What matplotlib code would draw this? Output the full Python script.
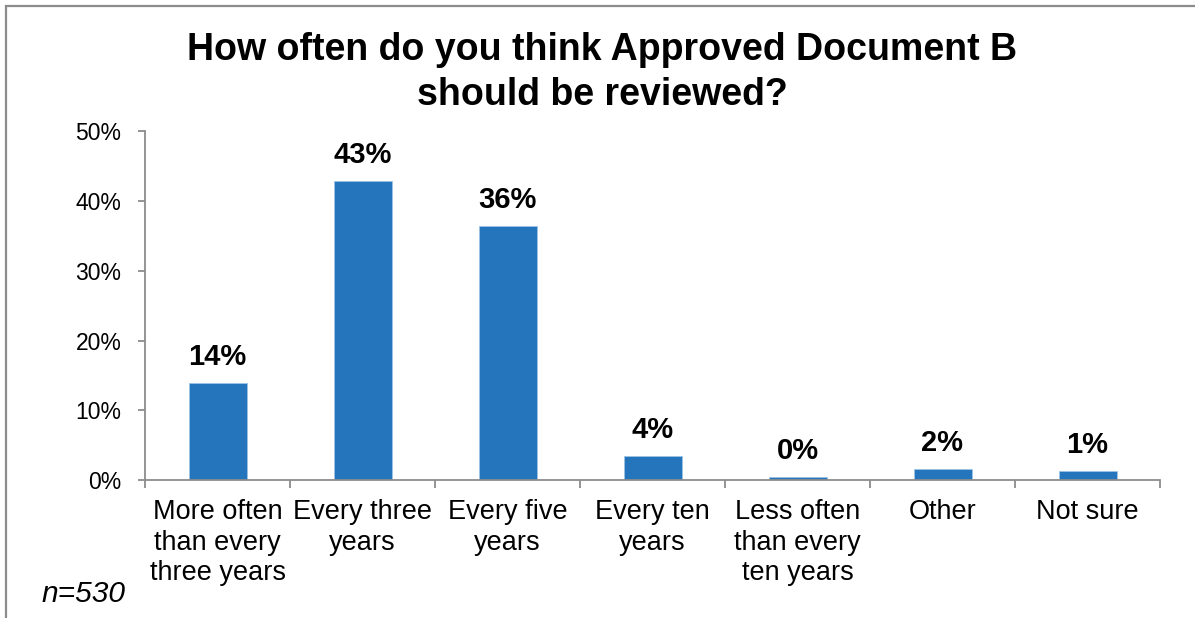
import matplotlib
matplotlib.use("Agg")
import matplotlib.pyplot as plt
from matplotlib.patches import Rectangle

# Survey responses (share of respondents, %)
categories = [
    "More often\nthan every\nthree years",
    "Every three\nyears",
    "Every five\nyears",
    "Every ten\nyears",
    "Less often\nthan every\nten years",
    "Other",
    "Not sure",
]
shares = [13.9, 42.9, 36.4, 3.5, 0.4, 1.6, 1.3]
y_ticks = [0, 10, 20, 30, 40, 50]
y_tick_labels = ["0%", "10%", "20%", "30%", "40%", "50%"]

title_line1 = "How often do you think Approved Document B"
title_line2 = "should be reviewed?"
sample_note = "n=530"

plt.rcParams["font.family"] = ["Liberation Sans", "DejaVu Sans"]

W, H = 1195, 618
fig = plt.figure(figsize=(W / 100, H / 100), dpi=100)
fig.patch.set_facecolor("white")

# Outer chart frame (left and top edges visible)
fig.patches.append(Rectangle((6 / W, -0.02), 1.05, (612 / H) + 0.02,
                             transform=fig.transFigure, fill=False,
                             edgecolor="#8c8c8c", linewidth=1.6, zorder=0))

ax = fig.add_axes([145 / W, 138 / H, (1160 - 145) / W, (480 - 131.5) / H])
ax.set_facecolor("none")

bar_color = "#2475bb"
x = list(range(len(categories)))
bars = ax.bar(x, shares, width=0.4, color=bar_color,
              edgecolor="#9cc3e6", linewidth=0.6, zorder=2)

for xi, v in zip(x, shares):
    ax.annotate(f"{v:.0f}%", xy=(xi, v), xytext=(0, 13),
                textcoords="offset points", ha="center", va="baseline",
                fontsize=21, fontweight="bold", color="black")

ax.set_xlim(-0.5, len(categories) - 0.5)
ax.set_ylim(0, 50)

axis_color = "#8c8c8c"
for side in ("top", "right"):
    ax.spines[side].set_visible(False)
for side in ("left", "bottom"):
    ax.spines[side].set_color(axis_color)
    ax.spines[side].set_linewidth(1.3)

ax.set_yticks(y_ticks)
ax.set_yticklabels(y_tick_labels)
ax.tick_params(axis="y", length=5, width=1.3, color=axis_color,
               labelsize=16.5, pad=12, labelcolor="black")

ax.set_xticks(x)
ax.set_xticklabels(categories, linespacing=1.22)
ax.tick_params(axis="x", which="major", length=0, labelsize=19.5, pad=14,
               labelcolor="black")
ax.set_xticks([i - 0.5 for i in range(len(categories) + 1)], minor=True)
ax.tick_params(axis="x", which="minor", length=5.5, width=1.3,
               color=axis_color, direction="out")

fig.text(602 / W, 1 - 60 / H, title_line1, ha="center", va="baseline",
         fontsize=27, fontweight="bold", color="black")
fig.text(602 / W, 1 - 105 / H, title_line2, ha="center", va="baseline",
         fontsize=27, fontweight="bold", color="black")

fig.text(42 / W, 1 - 602 / H, sample_note, ha="left", va="baseline",
         fontsize=21.5, fontstyle="italic", color="black")

fig.savefig("out.png", dpi=100)
